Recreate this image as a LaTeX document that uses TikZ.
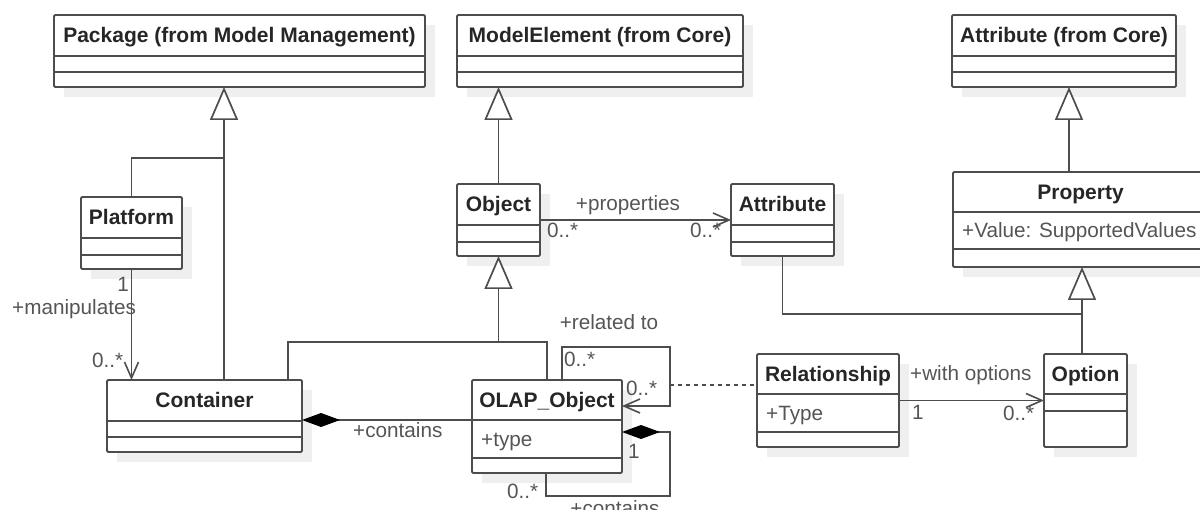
\documentclass[tikz,border=0pt]{standalone}
\usepackage{fontspec}
\setmainfont{Liberation Sans}
\usetikzlibrary{arrows.meta,calc}
\definecolor{linec}{HTML}{4D4D4D}
\definecolor{titlec}{HTML}{262626}
\definecolor{labelc}{HTML}{555555}
\definecolor{shadowc}{HTML}{EFEFEF}
\tikzset{
 conn/.style={draw=linec, line width=1.9pt},
 clsbox/.style={draw=linec, line width=1.9pt, fill=white, inner sep=0pt, outer sep=0pt, rounded corners=1.2pt},
 ctitle/.style={font=\bfseries\fontsize{21}{25}\selectfont, text=titlec, inner sep=0pt, text height=15pt, text depth=0pt},
 cattr/.style={font=\fontsize{20.7}{25}\selectfont, text=labelc, inner sep=0pt, text height=15pt, text depth=0pt, anchor=west},
 lbl/.style={font=\fontsize{20.7}{25}\selectfont, text=labelc, inner sep=0pt},
 gen/.style={conn, -{Triangle[length=33pt,width=28pt,fill=white,line width=1.7pt]}},
 assoc/.style={conn, -{Straight Barb[length=16pt,width=14pt,line width=1.6pt]}},
 compo/.style={conn, {Diamond[length=38pt,width=14pt,fill=black,color=black]}-},
 depend/.style={conn, line width=1.7pt, dash pattern=on 4pt off 4pt},
}
% name x1 y1 x2 y2 sep1 sep2 title
\newcommand\umlcls[8]{%
  \fill[shadowc] ({#2+10},{#3+10}) rectangle ({#4+10},{#5+10});
  \node[clsbox, minimum width={(#4-#2)*1pt}, minimum height={(#5-#3)*1pt}] (#1) at ({(#2+#4)/2},{(#3+#5)/2}) {};
  \draw[conn] (#2,#6) -- (#4,#6) (#2,#7) -- (#4,#7);
  \node[ctitle] (#1-t) at ({(#2+#4)/2},{(#3+#6)/2}) {#8};
}
\begin{document}
\begin{tikzpicture}[x=1pt,y=-1pt]
\useasboundingbox (0,0) rectangle (1200,510);
\clip (0,0) rectangle (1200,510);
\umlcls{pkg}{54}{15}{425}{87}{56}{72}{Package (from Model Management)}
\umlcls{me}{457}{15}{743}{87}{56}{72}{ModelElement (from Core)}
\umlcls{acore}{952}{15}{1176}{87}{56}{72}{Attribute (from Core)}
\umlcls{plat}{81}{197}{182}{269}{238}{255}{Platform}
\umlcls{obj}{457}{184}{540}{256}{225}{242}{Object}
\umlcls{attr}{731}{184}{834}{256}{225}{242}{Attribute}
\umlcls{prop}{953}{172}{1208}{267}{212}{249}{Property}
\umlcls{cont}{107}{380}{302}{452}{421}{437}{Container}
\umlcls{olap}{472}{380}{622}{473}{420}{458}{OLAP\_Object}
\umlcls{rel}{757}{354}{899}{447}{394}{432}{Relationship}
\umlcls{opt}{1044}{354}{1127}{447}{394}{411}{Option}
\node[cattr] (prop-a) at (962,230.5) {+Value: SupportedValues};
\node[cattr] (olap-a) at (481,439) {+type};
\node[cattr] (rel-a) at (766,413) {+Type};
% generalizations
\coordinate (g1) at (224,158);
\draw[gen] (plat.north) |- (g1) -- (g1 |- pkg.south);
\draw[conn] (g1 |- cont.north) -- (g1);
\draw[gen] (obj.north) -- (obj.north |- me.south);
\coordinate (g2) at (498.5,342);
\coordinate (c1) at (288,380);
\draw[gen] (g2) -- (obj.south);
\draw[conn] (c1) |- (g2) -| (olap.north);
\coordinate (g4) at (1069,0);
\draw[gen] (g4 |- prop.north) -- (g4 |- acore.south);
\coordinate (g3) at (1082,314);
\draw[gen] (g3) -- (g3 |- prop.south);
\draw[conn] (g3 |- opt.north) -- (g3);
\draw[conn] (attr.south) |- (g3);
% object -> attribute
\draw[assoc] (obj.east) -- (attr.west);
\node[lbl, anchor=base] (l1) at (628,211) {+properties};
\node[lbl, anchor=base west] (l2) at (547,238) {0..*};
\node[lbl, anchor=base west] (l3) at (690,238) {0..*};
% platform -> container
\draw[assoc] (plat.south) -- (plat.south |- cont.north);
\node[lbl, anchor=base east] (l4) at (129,292) {1};
\node[lbl, anchor=base west] (l5) at (12,315) {+manipulates};
\node[lbl, anchor=base west] (l6) at (92,368) {0..*};
% container <>- olap
\coordinate (k1) at (0,420);
\draw[compo] (cont.east |- k1) -- (olap.west |- k1);
\node[lbl, anchor=base west] (l7) at (353,438) {+contains};
% related to
\coordinate (r0) at (562,347);
\coordinate (r2) at (670,347);
\coordinate (r1) at (670,406);
\draw[assoc] (r0 |- olap.north) -- (r0) -- (r2) -- (r1) -- (r1 -| olap.east);
\node[lbl, anchor=base] (l8) at (609,330) {+related to};
\node[lbl, anchor=base west] (l9) at (564,367) {0..*};
\node[lbl, anchor=base west] (l10) at (626,396) {0..*};
% dependency
\coordinate (d0) at (670,385);
\draw[depend] (d0) -- (d0 -| rel.west);
% self composition
\coordinate (s1) at (670,432);
\coordinate (s2) at (546,496);
\draw[compo] (s1 -| olap.east) -- (s1) |- (s2) -- (s2 |- olap.south);
\node[lbl, anchor=base west] (l11) at (628,459) {1};
\node[lbl, anchor=base west] (l12) at (507,498) {0..*};
\node[lbl, anchor=base] (l13) at (615,515) {+contains};
% relationship -> option
\draw[assoc] (rel.east) -- (opt.west);
\node[lbl, anchor=base west] (l14) at (910,381) {+with options};
\node[lbl, anchor=base west] (l15) at (912,420) {1};
\node[lbl, anchor=base west] (l16) at (1003,421) {0..*};
\end{tikzpicture}
\end{document}
